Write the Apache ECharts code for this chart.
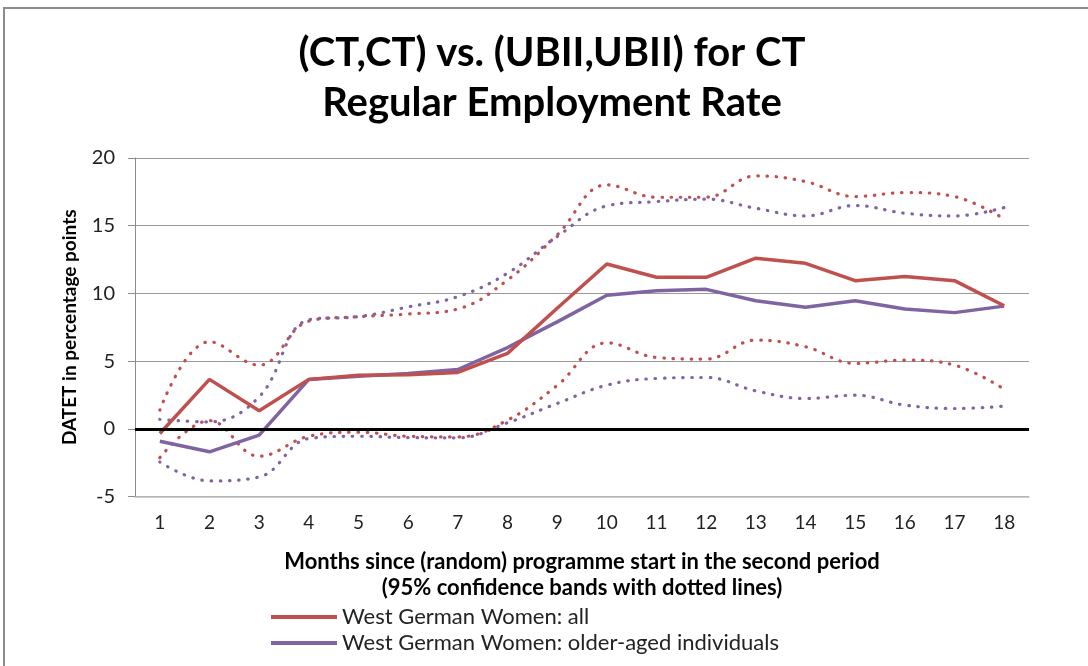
<!DOCTYPE html>
<html lang="en">
<head>
    <meta charset="utf-8">
    <title>(CT,CT) vs. (UBII,UBII) for CT - Regular Employment Rate</title>
    <script src="https://cdn.jsdelivr.net/npm/echarts@6.0.0/dist/echarts.min.js"></script>
    <style>
        body {
            margin: 0;
            background: #fff;
        }

        .frame {
            position: absolute;
            left: 3px;
            top: 7px;
            width: 1100px;
            height: 700px;
            border: 2px solid #8c8c8c;
        }

        #chart {
            position: absolute;
            left: 0;
            top: 0;
            width: 1088px;
            height: 666px;
        }
    </style>
</head>
<body>
<div class="frame"></div>
<div id="chart"></div>
<script>
    // months 1..18
    const months = ['1', '2', '3', '4', '5', '6', '7', '8', '9', '10', '11', '12', '13', '14', '15', '16', '17', '18'];

    // West German Women: all
    const allEst = [-0.35, 3.65, 1.33, 3.65, 3.96, 4.0, 4.16, 5.57, 8.9, 12.17, 11.19, 11.19, 12.6, 12.22, 10.94, 11.24, 10.94, 9.09];
    const allUpper = [1.38, 6.43, 4.7, 7.95, 8.28, 8.48, 8.85, 10.99, 14.32, 18.02, 17.1, 17.1, 18.68, 18.26, 17.15, 17.45, 17.15, 15.5];
    const allLower = [-2.13, 0.6, -2.03, -0.55, -0.25, -0.55, -0.6, 0.64, 3.2, 6.35, 5.27, 5.15, 6.55, 6.06, 4.83, 5.07, 4.7, 2.93];

    // West German Women: older-aged individuals
    const olderEst = [-0.92, -1.7, -0.47, 3.65, 3.89, 4.09, 4.38, 6.0, 7.9, 9.86, 10.2, 10.3, 9.46, 8.97, 9.46, 8.85, 8.58, 9.06];
    const olderUpper = [0.69, 0.51, 2.36, 8.05, 8.28, 9.0, 9.76, 11.49, 14.2, 16.46, 16.78, 16.96, 16.29, 15.72, 16.49, 15.92, 15.72, 16.34];
    const olderLower = [-2.45, -3.85, -3.56, -0.72, -0.55, -0.65, -0.67, 0.44, 1.87, 3.22, 3.72, 3.79, 2.8, 2.24, 2.48, 1.75, 1.5, 1.67];

    const yTicks = [-5, 0, 5, 10, 15, 20];

    const RED = '#c0504d';
    const PURPLE = '#8064a2';
    const FONT = 'Lato, "Open Sans", sans-serif';

    function band(name, data, color) {
        return {
            name: name,
            type: 'line',
            data: data,
            symbol: 'none',
            smooth: 0.4,
            silent: true,
            lineStyle: {
                color: color,
                width: 3.2,
                type: [0.5, 8.7],
                cap: 'round'
            },
            z: 2
        };
    }

    const chart = echarts.init(document.getElementById('chart'));
    const option = {
        animation: false,
        textStyle: {fontFamily: FONT},
        title: [{
            text: '(CT,CT) vs. (UBII,UBII) for CT\nRegular Employment Rate',
            left: 547,
            top: 23,
            textAlign: 'center',
            textStyle: {
                fontFamily: FONT,
                fontSize: 40,
                fontWeight: 'bold',
                color: '#000',
                lineHeight: 50
            }
        }, {
            text: 'Months since (random) programme start in the second period\n(95% confidence bands with dotted lines)',
            left: 577,
            top: 544,
            textAlign: 'center',
            textStyle: {
                fontFamily: FONT,
                fontSize: 22,
                fontWeight: 'bold',
                color: '#000',
                lineHeight: 26
            }
        }],
        legend: {
            data: ['West German Women: all', 'West German Women: older-aged individuals'],
            orient: 'vertical',
            left: 266,
            top: 601,
            icon: 'rect',
            itemWidth: 66,
            itemHeight: 4,
            itemGap: 4,
            textStyle: {
                fontFamily: FONT,
                fontSize: 22,
                lineHeight: 22,
                color: '#222'
            }
        },
        grid: {
            left: 135,
            right: 59,
            top: 158,
            bottom: 169.5,
            outerBoundsMode: 'none'
        },
        xAxis: {
            type: 'category',
            data: months,
            boundaryGap: true,
            axisLine: {onZero: false, lineStyle: {color: '#bdbdbd', width: 1.5}},
            axisTick: {show: false},
            axisLabel: {
                margin: 17,
                fontSize: 19,
                color: '#222'
            }
        },
        yAxis: {
            type: 'value',
            min: yTicks[0],
            max: yTicks[yTicks.length - 1],
            interval: 5,
            name: 'DATET in percentage points',
            nameLocation: 'middle',
            nameGap: 56,
            nameTextStyle: {
                fontFamily: FONT,
                fontSize: 19,
                fontWeight: 'bold',
                color: '#000'
            },
            axisLine: {show: true, lineStyle: {color: '#8c8c8c'}},
            axisTick: {show: true, length: 7, lineStyle: {color: '#8c8c8c'}},
            axisLabel: {
                margin: 20,
                fontSize: 20,
                color: '#222'
            },
            splitLine: {lineStyle: {color: '#9a9a9a', width: 1}}
        },
        series: [
            band('all upper', allUpper, RED),
            band('all lower', allLower, RED),
            band('older upper', olderUpper, PURPLE),
            band('older lower', olderLower, PURPLE),
            {
                name: 'West German Women: all',
                type: 'line',
                data: allEst,
                symbol: 'none',
                lineStyle: {color: RED, width: 3.5},
                itemStyle: {color: RED},
                z: 4,
                markLine: {
                    silent: true,
                    symbol: 'none',
                    label: {show: false},
                    lineStyle: {color: '#000', width: 3, type: 'solid'},
                    data: [{yAxis: 0}]
                }
            },
            {
                name: 'West German Women: older-aged individuals',
                type: 'line',
                data: olderEst,
                symbol: 'none',
                lineStyle: {color: PURPLE, width: 3.5},
                itemStyle: {color: PURPLE},
                z: 3
            }
        ]
    };
    chart.setOption(option);
</script>
</body>
</html>
